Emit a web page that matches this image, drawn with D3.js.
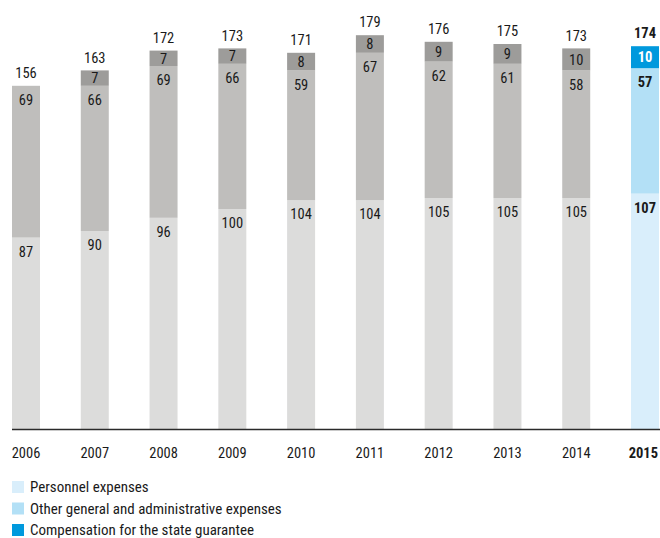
<!DOCTYPE html>
<html>
<head>
<meta charset="utf-8">
<script src="https://cdn.jsdelivr.net/npm/d3@7"></script>
<style>
  html, body { margin: 0; padding: 0; background: #fff; }
  svg text { font-family: "Roboto Condensed", "DejaVu Sans", sans-serif; font-stretch: condensed; }
</style>
</head>
<body>
<svg id="chart" width="660" height="538"></svg>
<script>
// Administrative expenses by year (EUR m)
const years = ["2006", "2007", "2008", "2009", "2010", "2011", "2012", "2013", "2014", "2015"];
const personnel = [87, 90, 96, 100, 104, 104, 105, 105, 105, 107];
const otherAdmin = [69, 66, 69, 66, 59, 67, 62, 61, 58, 57];
const guarantee = [0, 7, 7, 7, 8, 8, 9, 9, 10, 10];
const totals = [156, 163, 172, 173, 171, 179, 176, 175, 173, 174];
const legendLabels = ["Personnel expenses", "Other general and administrative expenses", "Compensation for the state guarantee"];

const currentYear = "2015";
const greyColors = ["#dcdcdb", "#bfbebc", "#9d9c9a"];
const blueColors = ["#d9eefb", "#b3e0f6", "#0099dd"];

const svg = d3.select("#chart");
const baseY = 429;

const x = d3.scaleBand().domain(years).range([12, 659]).paddingInner(0.593).paddingOuter(0);
const y = d3.scaleLinear().domain([0, 195]).range([baseY, 0]);

const keys = ["personnel", "other", "guarantee"];
const rows = years.map((yr, i) => ({ year: yr, personnel: personnel[i], other: otherAdmin[i], guarantee: guarantee[i], total: totals[i] }));
const stacked = d3.stack().keys(keys)(rows);

const g = svg.append("g");

stacked.forEach((layer, li) => {
  g.selectAll(null).data(layer).enter().append("rect")
    .attr("x", d => x(d.data.year))
    .attr("width", x.bandwidth())
    .attr("y", d => y(d[1]))
    .attr("height", d => y(d[0]) - y(d[1]))
    .attr("fill", d => (d.data.year === currentYear ? blueColors : greyColors)[li]);
});

// Segment value labels
stacked.forEach((layer, li) => {
  g.selectAll(null).data(layer.filter(d => d[1] - d[0] > 0)).enter().append("text")
    .attr("x", d => x(d.data.year) + x.bandwidth() / 2)
    .attr("y", d => li === 2 ? (y(d[1]) + y(d[0])) / 2 : y(d[1]) + 14)
    .attr("dy", "0.36em")
    .attr("text-anchor", "middle")
    .attr("font-size", 14.5)
    .attr("font-weight", d => d.data.year === currentYear ? "bold" : "normal")
    .attr("fill", d => (d.data.year === currentYear && li === 2) ? "#ffffff" : "#1a1a1a")
    .text(d => d[1] - d[0]);
});

// Totals above bars
g.selectAll(null).data(rows).enter().append("text")
  .attr("x", d => x(d.year) + x.bandwidth() / 2)
  .attr("y", d => y(d.total) - 13)
  .attr("dy", "0.36em")
  .attr("text-anchor", "middle")
  .attr("font-size", 14.5)
  .attr("font-weight", d => d.year === currentYear ? "bold" : "normal")
  .attr("fill", "#1a1a1a")
  .text(d => d.total);

// Baseline
svg.append("line")
  .attr("x1", 12).attr("x2", 660)
  .attr("y1", baseY + 0.5).attr("y2", baseY + 0.5)
  .attr("stroke", "#2a2a2a").attr("stroke-width", 1.5);

// Year labels
const xAxis = d3.axisBottom(x).tickSize(0).tickPadding(0);
const ax = svg.append("g").attr("transform", `translate(0,${baseY + 24})`).call(xAxis);
ax.select(".domain").remove();
ax.selectAll("text")
  .attr("font-size", 14.5)
  .attr("fill", "#1a1a1a")
  .attr("dy", "0.36em")
  .attr("y", 0)
  .attr("font-weight", d => d === currentYear ? "bold" : "normal");
ax.selectAll(".tick").filter(d => d === currentYear).select("text")
  .attr("text-anchor", "end").attr("x", 13);

// Legend
const legend = svg.append("g").attr("transform", "translate(12,481)");
legendLabels.forEach((lab, i) => {
  const row = legend.append("g").attr("transform", `translate(0,${i * 21.5})`);
  row.append("rect").attr("width", 12).attr("height", 12).attr("fill", blueColors[i]);
  row.append("text").attr("x", 18).attr("y", 6).attr("dy", "0.34em")
    .attr("font-size", 15).attr("fill", "#1a1a1a").text(lab);
});
</script>
</body>
</html>
